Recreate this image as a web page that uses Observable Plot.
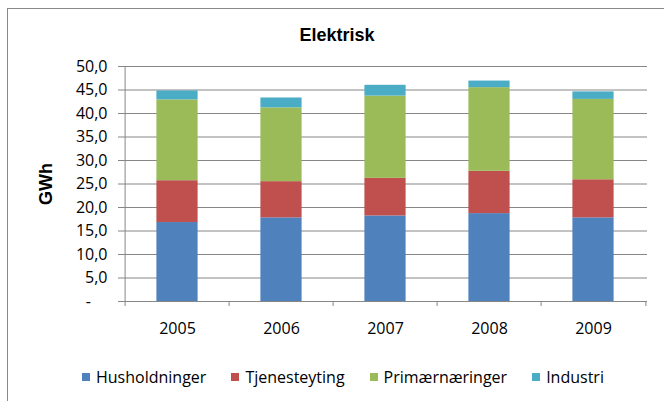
<!DOCTYPE html>
<html>
<head>
<meta charset="utf-8">
<script src="https://cdn.jsdelivr.net/npm/d3@7"></script>
<script src="https://cdn.jsdelivr.net/npm/@observablehq/plot@0.6"></script>
<style>
  html, body { margin: 0; padding: 0; background: #fff; }
  #wrap { position: relative; width: 664px; height: 401px; overflow: hidden; background: #fff; }
  #border { position: absolute; left: 7px; top: 8px; width: 700px; height: 430px; border: 1px solid #8a8a8a; box-sizing: border-box; }
  #title { position: absolute; left: 0; top: 24px; width: 674px; text-align: center; font: bold 18px "Liberation Sans", Arial, sans-serif; color: #000; line-height: 22px; }
  #chart { position: absolute; left: 0; top: 50px; }
  #legend { position: absolute; left: 82px; top: 366px; display: flex; align-items: center; font: 16px "Open Sans", sans-serif; color: #000; }
  .item { display: flex; align-items: center; margin-right: 25px; }
  .sw { width: 8px; height: 8px; margin-right: 6px; }
  #chart g[aria-label="y-axis label"] text { font: bold 18px "Liberation Sans", Arial, sans-serif; }
</style>
</head>
<body>
<div id="wrap">
  <div id="border"></div>
  <div id="title">Elektrisk</div>
  <div id="chart"></div>
  <div id="legend"></div>
</div>
<script>
const years = ["2005", "2006", "2007", "2008", "2009"];
const seriesNames = ["Husholdninger", "Tjenesteyting", "Primærnæringer", "Industri"];
const husholdninger = [16.8, 17.8, 18.2, 18.7, 17.8];
const tjenesteyting = [8.9, 7.7, 8.0, 9.0, 8.1];
const primaernaeringer = [17.2, 15.7, 17.5, 17.8, 17.1];
const industri = [1.9, 2.1, 2.3, 1.4, 1.6];
const colors = ["#4F81BD", "#C0504D", "#9BBB59", "#4BACC6"];
const yTicks = [0, 5, 10, 15, 20, 25, 30, 35, 40, 45, 50];

const seriesValues = [husholdninger, tjenesteyting, primaernaeringer, industri];
const data = [];
seriesNames.forEach((s, si) => {
  years.forEach((y, yi) => data.push({year: y, series: s, value: seriesValues[si][yi]}));
});

const W = 664, H = 290, mL = 123, mR = 17, mT = 16, mB = 39;
const bw = (W - mL - mR) / years.length;
const plotH = H - mT - mB;
const fmt = d => d === 0 ? "-\u00a0\u00a0\u00a0\u00a0" : d.toFixed(1).replace(".", ",");
const barInset = (bw - 42) / 2;

const chart = Plot.plot({
  width: W, height: H,
  marginLeft: mL, marginRight: mR, marginTop: mT, marginBottom: mB,
  style: {fontFamily: "'Open Sans', sans-serif", fontSize: "16px", color: "#000", background: "transparent"},
  x: {domain: years, paddingInner: 0, paddingOuter: 0},
  y: {domain: [0, 50]},
  color: {domain: seriesNames, range: colors},
  marks: [
    Plot.gridY(yTicks, {stroke: "#868686", strokeOpacity: 1}),
    Plot.barY(data, {x: "year", y: "value", fill: "series", insetLeft: barInset, insetRight: barInset}),
    Plot.ruleY([0], {stroke: "#868686"}),
    Plot.ruleX([years[0]], {x: d => d, dx: -bw / 2, stroke: "#868686"}),
    Plot.ruleX(years, {x: d => d, dx: -bw / 2, stroke: "#868686", insetTop: plotH, insetBottom: -5}),
    Plot.ruleX([years[years.length - 1]], {x: d => d, dx: bw / 2, stroke: "#868686", insetTop: plotH, insetBottom: -5}),
    Plot.axisY(yTicks, {tickSize: 5, tickPadding: 11, tickFormat: fmt, stroke: "#868686", label: "GWh", labelAnchor: "center", labelOffset: 84, labelArrow: false}),
    Plot.axisX({tickSize: 0, tickPadding: 21, label: null})
  ]
});
document.getElementById("chart").appendChild(chart);

const legend = document.getElementById("legend");
seriesNames.forEach((s, i) => {
  const it = document.createElement("div");
  it.className = "item";
  const sw = document.createElement("div");
  sw.className = "sw";
  sw.style.background = colors[i];
  const t = document.createElement("span");
  t.textContent = s;
  it.appendChild(sw); it.appendChild(t);
  legend.appendChild(it);
});
</script>
</body>
</html>
